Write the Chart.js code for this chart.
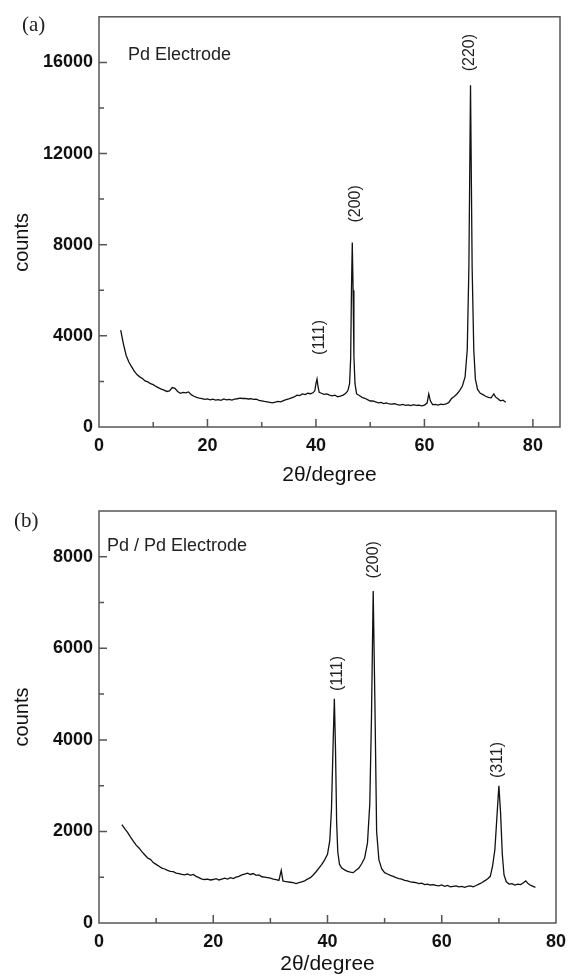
<!DOCTYPE html>
<html>
<head>
<meta charset="utf-8">
<script src="https://cdn.jsdelivr.net/npm/chart.js@4.4.1/dist/chart.umd.min.js"></script>
<style>
  body { margin: 0; background: #fff; }
  #wrap { position: relative; width: 568px; height: 977px; }
  canvas { position: absolute; left: 0; }
  .tag { position: absolute; font-family: "Liberation Serif", "Times New Roman", serif; font-size: 21px; color: #222; }
</style>
</head>
<body>
<div id="wrap">
  <canvas id="chartA" width="568" height="490" style="top:0"></canvas>
  <canvas id="chartB" width="568" height="487" style="top:490px"></canvas>
  <div class="tag" style="left:22px; top:12px">(a)</div>
  <div class="tag" style="left:14px; top:508px">(b)</div>
</div>
<script>
// (a) Pd electrode: 2theta (degree) and counts
const anglesA = [4, 4.5, 5, 5.5, 6, 6.5, 7, 7.5, 8, 8.5, 9, 9.5, 10, 10.5, 11, 11.5, 12, 12.5, 13, 13.5,
  14, 14.5, 15, 15.5, 16, 16.5, 17, 17.5, 18, 18.5, 19, 19.5, 20, 20.5, 21, 21.5, 22, 22.5, 23, 23.5,
  24, 24.5, 25, 25.5, 26, 26.5, 27, 27.5, 28, 28.5, 29, 29.5, 30, 30.5, 31, 31.5, 32, 32.5, 33, 33.5,
  34, 34.5, 35, 35.5, 36, 36.5, 37, 37.5, 38, 38.5, 39, 39.5, 39.8, 40.0, 40.2, 40.4, 40.6, 41, 41.5, 42,
  42.5, 43, 43.5, 44, 44.5, 45, 45.5, 45.9, 46.2, 46.4, 46.55, 46.7, 46.85, 47.0, 47.2, 47.5, 48, 48.5,
  49, 49.5, 50, 50.5, 51, 51.5, 52, 52.5, 53, 53.5, 54, 54.5, 55, 55.5, 56, 56.5, 57, 57.5, 58, 58.5,
  59, 59.5, 60, 60.5, 60.8, 61.1, 61.5, 62, 62.5, 63, 63.5, 64, 64.5, 65, 65.5, 66, 66.5, 67, 67.5, 67.9,
  68.2, 68.5, 68.8, 69.1, 69.4, 69.8, 70.3, 70.8, 71.3, 71.8, 72.3, 72.8, 73.1, 73.5, 74, 74.5, 75];
const countsA = [4250, 3650, 3150, 2850, 2650, 2450, 2300, 2200, 2130, 2020, 1980, 1900, 1860, 1780, 1720, 1660, 1620, 1560, 1580, 1730,
  1700, 1560, 1480, 1520, 1500, 1540, 1420, 1350, 1300, 1270, 1250, 1210, 1230, 1190, 1220, 1180, 1200, 1170, 1230, 1190,
  1210, 1180, 1220, 1240, 1270, 1250, 1260, 1230, 1240, 1210, 1220, 1170, 1150, 1120, 1100, 1080, 1060, 1090, 1120, 1100,
  1160, 1200, 1230, 1280, 1320, 1400, 1380, 1450, 1420, 1480, 1460, 1510, 1600, 1900, 2100, 1750, 1520, 1480, 1430, 1450,
  1400, 1370, 1400, 1330, 1360, 1400, 1480, 1600, 1900, 3000, 6000, 8100, 6000, 3100, 1900, 1450, 1380, 1300,
  1260, 1200, 1140, 1150, 1100, 1060, 1080, 1030, 1060, 1010, 1000, 1020, 980, 960, 990, 950, 970, 940, 980, 950,
  960, 930, 960, 1050, 1450, 1150, 980, 990, 960, 1000, 980, 1010, 1080, 1250, 1340, 1450, 1600, 1800, 2200, 3400,
  7000, 15000, 7000, 3400, 2100, 1650, 1480, 1420, 1350, 1300, 1280, 1450, 1320, 1250, 1150, 1180, 1090];

// (b) Pd / Pd electrode
const anglesB = [4, 4.5, 5, 5.5, 6, 6.5, 7, 7.5, 8, 8.5, 9, 9.5, 10, 10.5, 11, 11.5, 12, 12.5, 13, 13.5,
  14, 14.5, 15, 15.5, 16, 16.5, 17, 17.5, 18, 18.5, 19, 19.5, 20, 20.5, 21, 21.5, 22, 22.5, 23, 23.5,
  24, 24.5, 25, 25.5, 26, 26.5, 27, 27.5, 28, 28.5, 29, 29.5, 30, 30.5, 31, 31.5, 31.9, 32.2, 32.5, 33,
  33.5, 34, 34.5, 35, 35.5, 36, 36.5, 37, 37.5, 38, 38.5, 39, 39.5, 40, 40.4, 40.7, 41.0, 41.2, 41.4, 41.6,
  41.8, 42.1, 42.5, 43, 43.5, 44, 44.5, 45, 45.5, 46, 46.5, 47, 47.4, 47.7, 48.0, 48.3, 48.6, 49,
  49.5, 50, 50.5, 51, 51.5, 52, 52.5, 53, 53.5, 54, 54.5, 55, 55.5, 56, 56.5, 57, 57.5, 58, 58.5, 59,
  59.5, 60, 60.5, 61, 61.5, 62, 62.5, 63, 63.5, 64, 64.5, 65, 65.5, 66, 66.5, 67, 67.5, 68, 68.5, 68.9,
  69.3, 69.7, 70.0, 70.3, 70.6, 70.9, 71.3, 71.8, 72.3, 72.8, 73.3, 73.8, 74.3, 74.7, 75.1, 75.6, 76.0, 76.4];
const countsB = [2150, 2060, 1980, 1880, 1790, 1700, 1640, 1560, 1490, 1420, 1390, 1320, 1280, 1240, 1200, 1180, 1150, 1130, 1120, 1090,
  1080, 1060, 1050, 1070, 1040, 1060, 1020, 990, 960, 950, 960, 940, 950, 970, 940, 960, 980, 960, 990, 970,
  1000, 1020, 1050, 1070, 1090, 1060, 1080, 1040, 1050, 1010, 1000, 990, 980, 960, 950, 930, 1150, 920, 910, 900,
  890, 880, 860, 880, 900, 920, 960, 990, 1050, 1120, 1200, 1280, 1380, 1500, 1800, 2500, 4000, 4900, 3800, 2200,
  1550, 1280, 1200, 1160, 1130, 1110, 1100, 1150, 1200, 1300, 1420, 1750, 2600, 4500, 7250, 4800, 2000, 1380,
  1180, 1100, 1070, 1040, 1020, 990, 970, 960, 930, 920, 900, 890, 880, 860, 870, 840, 850, 830, 840, 820,
  810, 830, 800, 820, 790, 800, 810, 790, 800, 780, 800, 810, 790, 820, 850, 880, 920, 960, 1020, 1250,
  1600, 2400, 3000, 2400, 1500, 1050, 900, 850, 860, 830, 850, 840, 880, 920, 860, 820, 800, 780];

// peak labels, placed at (2theta, counts)
const peaksA = ["(111)", "(200)", "(220)"];
const peakXA = [40.6, 47.4, 68.3];
const peakYA = [3930, 9790, 16430];
const peaksB = ["(111)", "(200)", "(311)"];
const peakXB = [41.7, 48.0, 69.7];
const peakYB = [5450, 7935, 3560];

const FONT = "Arial, 'Liberation Sans', sans-serif";

// frame, inward tick marks, y title and annotation text
const decorPlugin = {
    id: "decor",
    afterDraw(chart, args, opts) {
        const ctx = chart.ctx;
        const a = chart.chartArea;
        const xs = chart.scales.x, ys = chart.scales.y;
        ctx.save();
        ctx.strokeStyle = "#555";
        ctx.lineWidth = 1.5;
        ctx.strokeRect(a.left, a.top, a.right - a.left, a.bottom - a.top);

        ctx.beginPath();
        xs.ticks.forEach(t => {
            if (t.value % opts.xMinor !== 0 || t.value <= xs.min || t.value >= xs.max) return;
            const px = xs.getPixelForValue(t.value);
            const len = t.value % opts.xMajor === 0 ? 8 : 5;
            ctx.moveTo(px, a.bottom);
            ctx.lineTo(px, a.bottom - len);
        });
        ys.ticks.forEach(t => {
            if (t.value % opts.yMinor !== 0 || t.value <= ys.min || t.value >= ys.max) return;
            const py = ys.getPixelForValue(t.value);
            const len = t.value % opts.yMajor === 0 ? 8 : 5;
            ctx.moveTo(a.left, py);
            ctx.lineTo(a.left + len, py);
        });
        ctx.stroke();

        ctx.fillStyle = "#111";
        ctx.textBaseline = "middle";
        ctx.textAlign = "center";
        ctx.font = "20px " + FONT;
        ctx.save();
        ctx.translate(22, ys.getPixelForValue(opts.titleAt));
        ctx.rotate(-Math.PI / 2);
        ctx.fillText("counts", 0, 0);
        ctx.restore();

        ctx.fillStyle = "#222";
        ctx.font = "18px " + FONT;
        ctx.textAlign = "left";
        ctx.fillText(opts.name, a.left + opts.nameDx, a.top + opts.nameDy);

        ctx.font = "16px " + FONT;
        ctx.textAlign = "center";
        opts.labels.forEach((lab, i) => {
            const px = xs.getPixelForValue(opts.lx[i]);
            const py = ys.getPixelForValue(opts.ly[i]);
            ctx.save();
            ctx.translate(px, py);
            ctx.rotate(-Math.PI / 2);
            ctx.fillText(lab, 0, 0);
            ctx.restore();
        });
        ctx.restore();
    }
};

function makeChart(id, xs, ys, cfg) {
    const points = xs.map((x, i) => ({ x: x, y: ys[i] }));
    return new Chart(document.getElementById(id), {
        type: "line",
        data: {
            datasets: [{
                data: points,
                borderColor: "#111",
                borderWidth: 1.3,
                pointRadius: 0,
                tension: 0,
                fill: false
            }]
        },
        options: {
            responsive: false,
            animation: false,
            layout: { padding: { top: cfg.padTop, right: cfg.padRight, left: 0, bottom: 0 } },
            plugins: {
                legend: { display: false },
                tooltip: { enabled: false },
                decor: cfg.decor
            },
            scales: {
                x: {
                    type: "linear",
                    min: 0,
                    max: cfg.xMax,
                    grid: { display: false, drawTicks: false },
                    border: { display: false },
                    afterFit: s => {
                        s.height = cfg.xHeight;
                        s.paddingLeft = 0;
                        s.paddingRight = 0;
                    },
                    ticks: {
                        stepSize: 10,
                        includeBounds: false,
                        autoSkip: false,
                        maxRotation: 0,
                        padding: 8,
                        color: "#111",
                        font: { family: FONT, size: 18, weight: "bold" },
                        callback: v => (v % 20 === 0 ? v : "")
                    },
                    title: {
                        display: true,
                        text: "2θ/degree",
                        color: "#111",
                        font: { family: FONT, size: 21 },
                        padding: { top: 0, bottom: cfg.xTitlePad }
                    }
                },
                y: {
                    min: 0,
                    max: cfg.yMax,
                    grid: { display: false, drawTicks: false },
                    border: { display: false },
                    afterFit: s => { s.width = 99; },
                    ticks: {
                        stepSize: cfg.yMinor,
                        autoSkip: false,
                        padding: 6,
                        color: "#111",
                        font: { family: FONT, size: 18, weight: "bold" },
                        callback: v => (v % cfg.yMajor === 0 ? v : "")
                    }
                }
            }
        },
        plugins: [decorPlugin]
    });
}

makeChart("chartA", anglesA, countsA, {
    padTop: 15, padRight: 8, xMax: 85, xHeight: 63, xTitlePad: 2,
    yMax: 18000, yMinor: 2000, yMajor: 4000,
    decor: { xMinor: 10, xMajor: 20, yMinor: 2000, yMajor: 4000, titleAt: 8100,
        name: "Pd Electrode", nameDx: 29, nameDy: 38,
        labels: peaksA, lx: peakXA, ly: peakYA }
});

makeChart("chartB", anglesB, countsB, {
    padTop: 21, padRight: 12, xMax: 80, xHeight: 54, xTitlePad: 0,
    yMax: 9000, yMinor: 1000, yMajor: 2000,
    decor: { xMinor: 10, xMajor: 20, yMinor: 1000, yMajor: 2000, titleAt: 4500,
        name: "Pd / Pd Electrode", nameDx: 8, nameDy: 35,
        labels: peaksB, lx: peakXB, ly: peakYB }
});
</script>
</body>
</html>
